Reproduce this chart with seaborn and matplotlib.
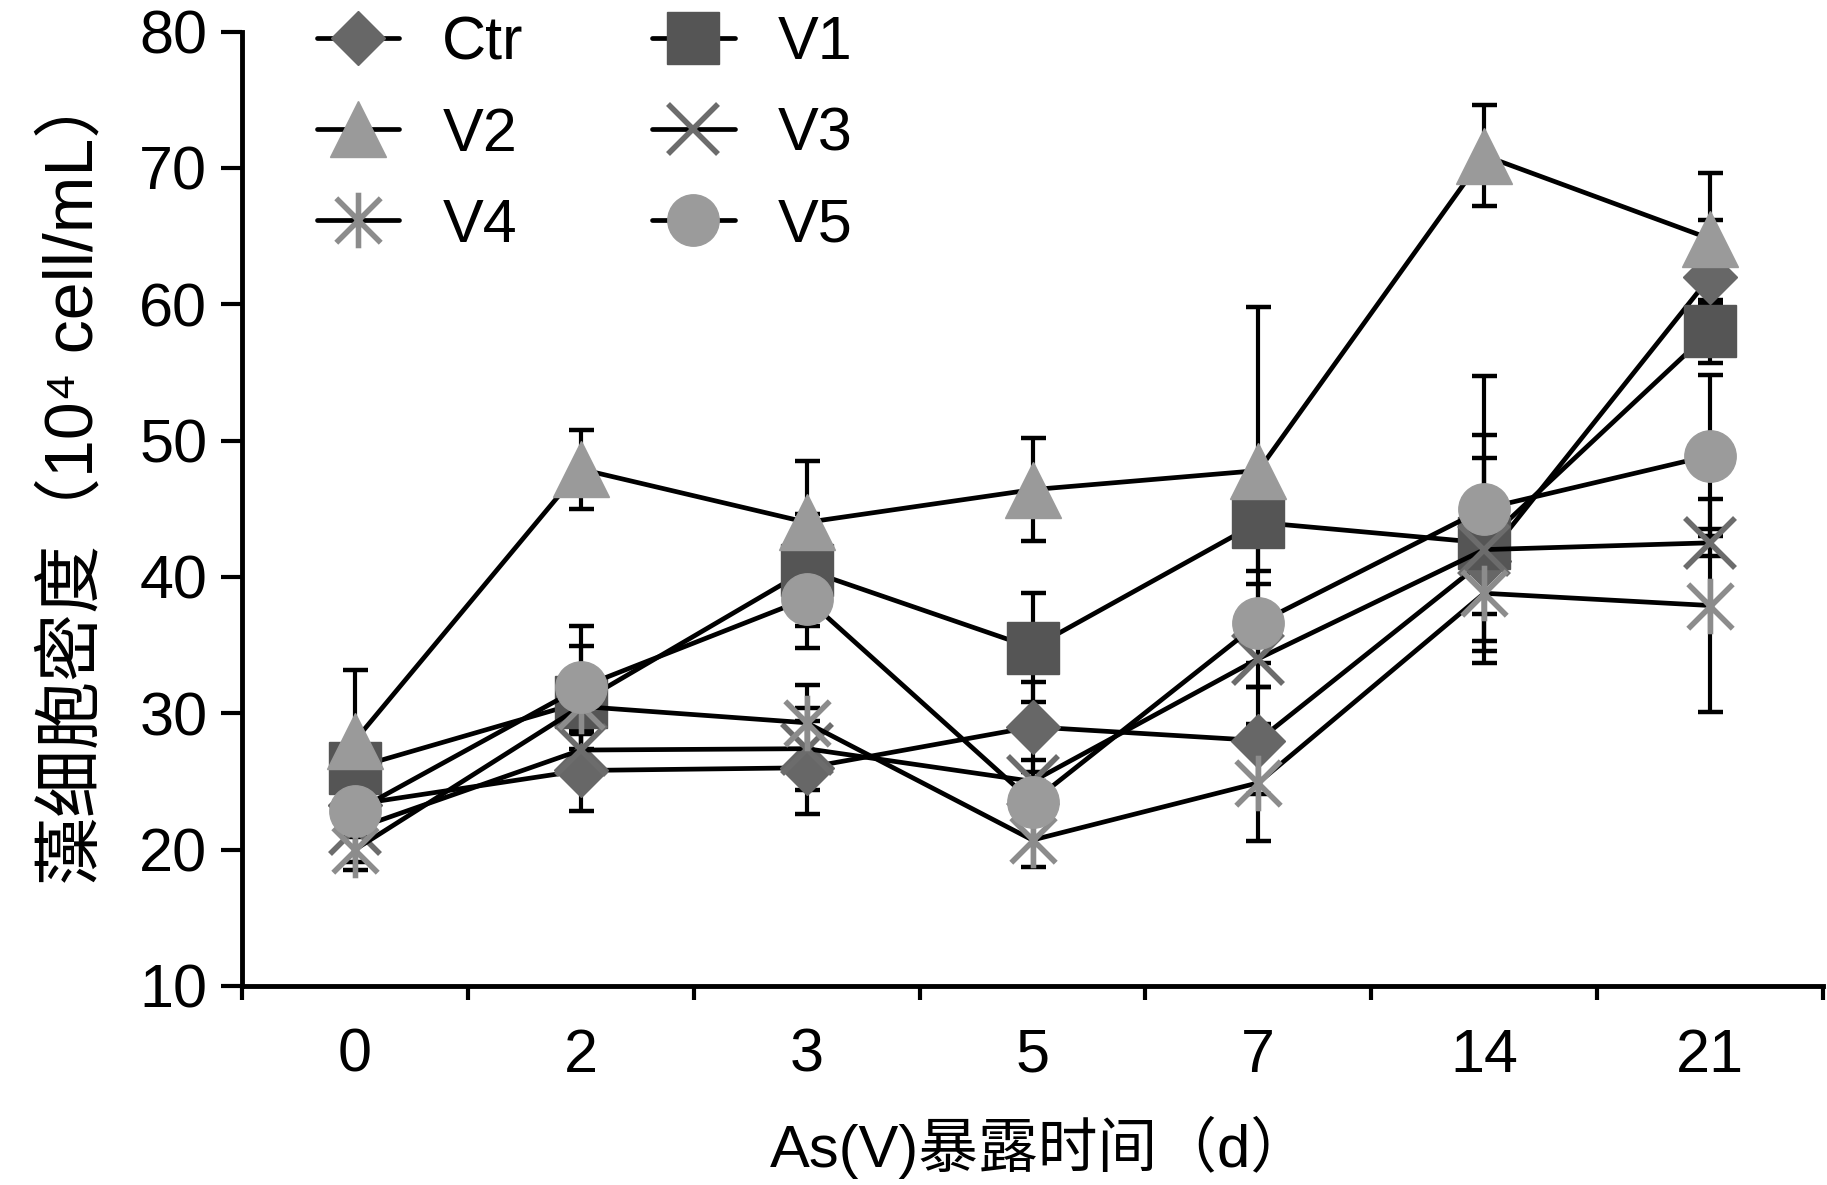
import numpy as np
import pandas as pd
import seaborn as sns
import matplotlib
matplotlib.use('Agg')
import matplotlib.pyplot as plt
from matplotlib.path import Path
from matplotlib.ticker import FixedLocator

# --- data ---
days = ['0', '2', '3', '5', '7', '14', '21']

ctr = [23.3, 25.8, 26.0, 29.0, 28.0, 41.2, 62.0]
ctr_err = [1.0, 3.0, 3.4, 3.3, 3.9, 7.5, 4.2]
v1 = [26.0, 30.8, 40.5, 34.8, 44.0, 42.5, 58.0]
v1_err = [1.0, 4.1, 4.1, 4.0, 3.6, 7.9, 2.3]
v2 = [28.0, 47.9, 44.0, 46.4, 47.8, 70.9, 64.8]
v2_err = [5.2, 2.9, 4.5, 3.8, 12.0, 3.7, 4.8]
v3 = [21.5, 27.3, 27.4, 25.0, 34.0, 42.0, 42.5]
v3_err = [3.0, 2.0, 3.0, 1.6, 2.1, 1.5, 1.0]
v4 = [20.0, 30.5, 29.3, 20.7, 24.9, 38.8, 37.9]
v4_err = [0.9, 2.0, 2.8, 2.0, 4.3, 1.5, 7.8]
v5 = [22.8, 31.9, 38.4, 23.5, 36.6, 45.0, 48.9]
v5_err = [1.2, 4.5, 3.6, 1.5, 2.9, 9.7, 5.9]

names = ['Ctr', 'V1', 'V2', 'V3', 'V4', 'V5']
values = [ctr, v1, v2, v3, v4, v5]
errors = [ctr_err, v1_err, v2_err, v3_err, v4_err, v5_err]

# excel-like "star" marker: an x with a vertical bar
star = Path([(-1, -1), (1, 1), (-1, 1), (1, -1), (0, -1.25), (0, 1.25)],
            [Path.MOVETO, Path.LINETO] * 3)

styles = {
    'Ctr': dict(marker='D', ms=28, mfc='#676767', mec='#676767', mew=1),
    'V1': dict(marker='s', ms=37, mfc='#555555', mec='#555555', mew=1),
    'V2': dict(marker='^', ms=40, mfc='#9a9a9a', mec='#9a9a9a', mew=1),
    'V3': dict(marker='x', ms=36, mfc='none', mec='#6c6c6c', mew=4),
    'V4': dict(marker=star, ms=40, mfc='none', mec='#8c8c8c', mew=4),
    'V5': dict(marker='o', ms=37, mfc='#9b9b9b', mec='#9b9b9b', mew=1),
}

sns.set_theme(style='ticks')
plt.rcParams['font.family'] = ['Liberation Sans', 'Noto Sans CJK SC']
plt.rcParams['axes.unicode_minus'] = False
for key in ['text.color', 'axes.labelcolor', 'xtick.color', 'ytick.color']:
    plt.rcParams[key] = 'black'

fig = plt.figure(figsize=(18.27, 11.85), dpi=100)
ax = fig.add_axes([0.1325, 0.168, 0.8653, 0.8054])

for name, vals, err in zip(names, values, errors):
    ax.errorbar(days, vals, yerr=err, fmt='none', ecolor='black',
                elinewidth=3, capsize=9, capthick=3.2, zorder=2)

for name, vals in zip(names, values):
    sns.lineplot(x=days, y=vals, ax=ax, color='black', lw=3.4, sort=False,
                 label=name, zorder=3, **styles[name])

ax.set_xlim(-0.5, 6.5)
ax.set_ylim(10, 80)
ax.set_yticks(np.arange(10, 81, 10))
ax.xaxis.set_minor_locator(FixedLocator(np.arange(-0.5, 7, 1)))
ax.tick_params(axis='x', which='major', length=0, pad=30, labelsize=44)
ax.tick_params(axis='x', which='minor', length=10, width=3, direction='out')
ax.tick_params(axis='y', length=15, width=3, direction='out', pad=10, labelsize=44)
for s in ['top', 'right']:
    ax.spines[s].set_visible(False)
for s in ['left', 'bottom']:
    ax.spines[s].set_linewidth(3.5)
    ax.spines[s].set_color('black')

ax.set_xlabel('As(V)暴露时间（d）', fontsize=43, ha='center', va='center')
ax.xaxis.set_label_coords(0.505, -0.169)
ax.set_ylabel('藻细胞密度（10⁴ cell/mL）', fontsize=49, ha='center', va='center')
ax.yaxis.set_label_coords(-0.106, 0.533)

handles, labels = ax.get_legend_handles_labels()
lookup = dict(zip(labels, handles))
order = ['Ctr', 'V2', 'V4', 'V1', 'V3', 'V5']
ax.legend([lookup[k] for k in order], order, ncol=2, frameon=False,
          loc='upper left', bbox_to_anchor=(0.1735, 0.987),
          bbox_transform=fig.transFigure, borderpad=0, borderaxespad=0,
          fontsize=44, handlelength=1.35, handletextpad=0.7,
          columnspacing=2.1, labelspacing=0.56)

fig.savefig('out.png', dpi=100)
